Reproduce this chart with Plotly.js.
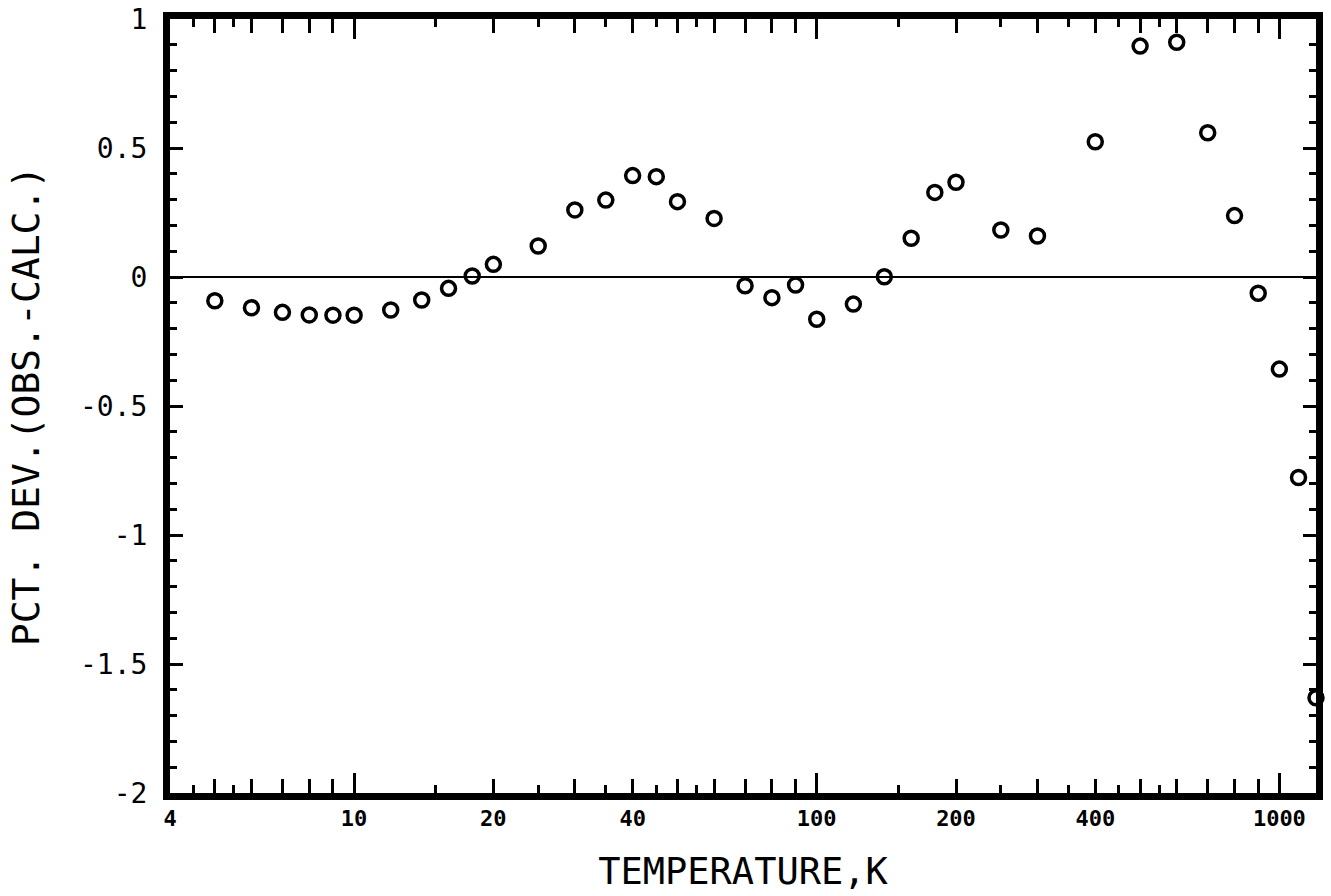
<!DOCTYPE html>
<html>
<head>
<meta charset="utf-8">
<script src="https://cdn.plot.ly/plotly-3.0.1.min.js"></script>
<style>
  html, body { margin: 0; padding: 0; background: #fff; }
  #chart { width: 1331px; height: 896px; }
</style>
</head>
<body>
<div id="chart"></div>
<script>
// Temperature (K) and percent deviation (obs. - calc.)
const temperature = [5, 6, 7, 8, 9, 10, 12, 14, 16, 18, 20, 25, 30, 35, 40, 45, 50,
  60, 70, 80, 90, 100, 120, 140, 160, 180, 200, 250, 300, 400, 500, 600, 700, 800,
  900, 1000, 1100, 1200];
const pctDev = [-0.092, -0.119, -0.137, -0.147, -0.148, -0.148, -0.128, -0.089, -0.044,
  0.004, 0.049, 0.12, 0.26, 0.298, 0.393, 0.389, 0.292, 0.227, -0.034, -0.080, -0.031,
  -0.164, -0.105, 0.001, 0.150, 0.328, 0.367, 0.182, 0.159, 0.524, 0.895, 0.910, 0.559,
  0.238, -0.063, -0.357, -0.777, -1.631];

// Axis ticks and labels
const xTickVals = [4, 10, 20, 40, 100, 200, 400, 1000];
const xTickText = ['4', '10', '20', '40', '100', '200', '400', '1000'];
const xLongTicks = [10, 100, 1000];
const xMediumTicks = [5, 6, 7, 8, 9, 20, 30, 40, 50, 60, 70, 80, 90, 200, 300, 400, 500,
  600, 700, 800, 900];
const xShortTicks = [4.5, 5.5, 15, 25, 35, 45, 55, 150, 250, 350, 450, 550];
const yTickVals = [1, 0.5, 0, -0.5, -1, -1.5, -2];
const yTickText = ['1', '0.5', '0', '-0.5', '-1', '-1.5', '-2'];

const xRange = [Math.log10(4), Math.log10(1200)];
const FONT = 'DejaVu Sans Mono';

const traces = [
  {
    type: 'scatter',
    mode: 'markers',
    x: temperature,
    y: pctDev,
    xaxis: 'x',
    yaxis: 'y',
    cliponaxis: false,
    marker: { symbol: 'circle-open', size: 14, color: '#000', line: { width: 3.5, color: '#000' } },
    showlegend: false,
    hoverinfo: 'x+y'
  },
  // empty traces so the tick-only overlay axes get drawn
  { type: 'scatter', mode: 'markers', x: [], y: [], xaxis: 'x2', yaxis: 'y', showlegend: false, hoverinfo: 'skip' },
  { type: 'scatter', mode: 'markers', x: [], y: [], xaxis: 'x3', yaxis: 'y', showlegend: false, hoverinfo: 'skip' }
];

const tickAxisBase = {
  type: 'log',
  overlaying: 'x',
  anchor: 'y',
  side: 'bottom',
  range: xRange,
  autorange: false,
  tickmode: 'array',
  ticks: 'inside',
  tickwidth: 3,
  tickcolor: '#000',
  mirror: 'ticks',
  showline: false,
  showticklabels: false,
  showgrid: false,
  zeroline: false,
  fixedrange: true
};

const layout = {
  width: 1331,
  height: 896,
  paper_bgcolor: '#fff',
  plot_bgcolor: '#fff',
  margin: { l: 170, r: 15, t: 19, b: 103 },
  showlegend: false,
  xaxis: {
    type: 'log',
    range: xRange,
    tickmode: 'array',
    tickvals: xTickVals,
    ticktext: xTickText,
    ticks: '',
    showline: true,
    linewidth: 7,
    linecolor: '#000',
    mirror: true,
    showgrid: false,
    zeroline: false,
    tickfont: { family: FONT, size: 22, weight: 'bold', color: '#000' },
    ticklabelstandoff: 0,
    title: { text: 'TEMPERATURE,K', font: { family: FONT, size: 37, color: '#000' }, standoff: 30 }
  },
  xaxis2: Object.assign({}, tickAxisBase, {
    tickvals: xLongTicks,
    ticklen: 20,
    minor: { tickmode: 'array', tickvals: xMediumTicks, ticks: 'inside', ticklen: 14,
      tickwidth: 3, tickcolor: '#000', showgrid: false }
  }),
  xaxis3: Object.assign({}, tickAxisBase, {
    tickvals: xShortTicks,
    ticklen: 8
  }),
  yaxis: {
    range: [-2, 1],
    tickmode: 'array',
    tickvals: yTickVals,
    ticktext: yTickText,
    ticks: 'inside',
    ticklen: 13,
    tickwidth: 3,
    tickcolor: '#000',
    showline: true,
    linewidth: 7,
    linecolor: '#000',
    mirror: 'ticks',
    minor: { tickmode: 'linear', tick0: 0, dtick: 0.1, ticks: 'inside', ticklen: 7,
      tickwidth: 3, tickcolor: '#000', showgrid: false },
    showgrid: false,
    zeroline: true,
    zerolinewidth: 2.5,
    zerolinecolor: '#000',
    tickfont: { family: FONT, size: 28, color: '#000' },
    ticklabelstandoff: 10,
    title: { text: 'PCT. DEV.(OBS.-CALC.)', font: { family: FONT, size: 38, color: '#000' }, standoff: 31 }
  }
};

Plotly.newPlot('chart', traces, layout, { staticPlot: true, displayModeBar: false });
</script>
</body>
</html>
